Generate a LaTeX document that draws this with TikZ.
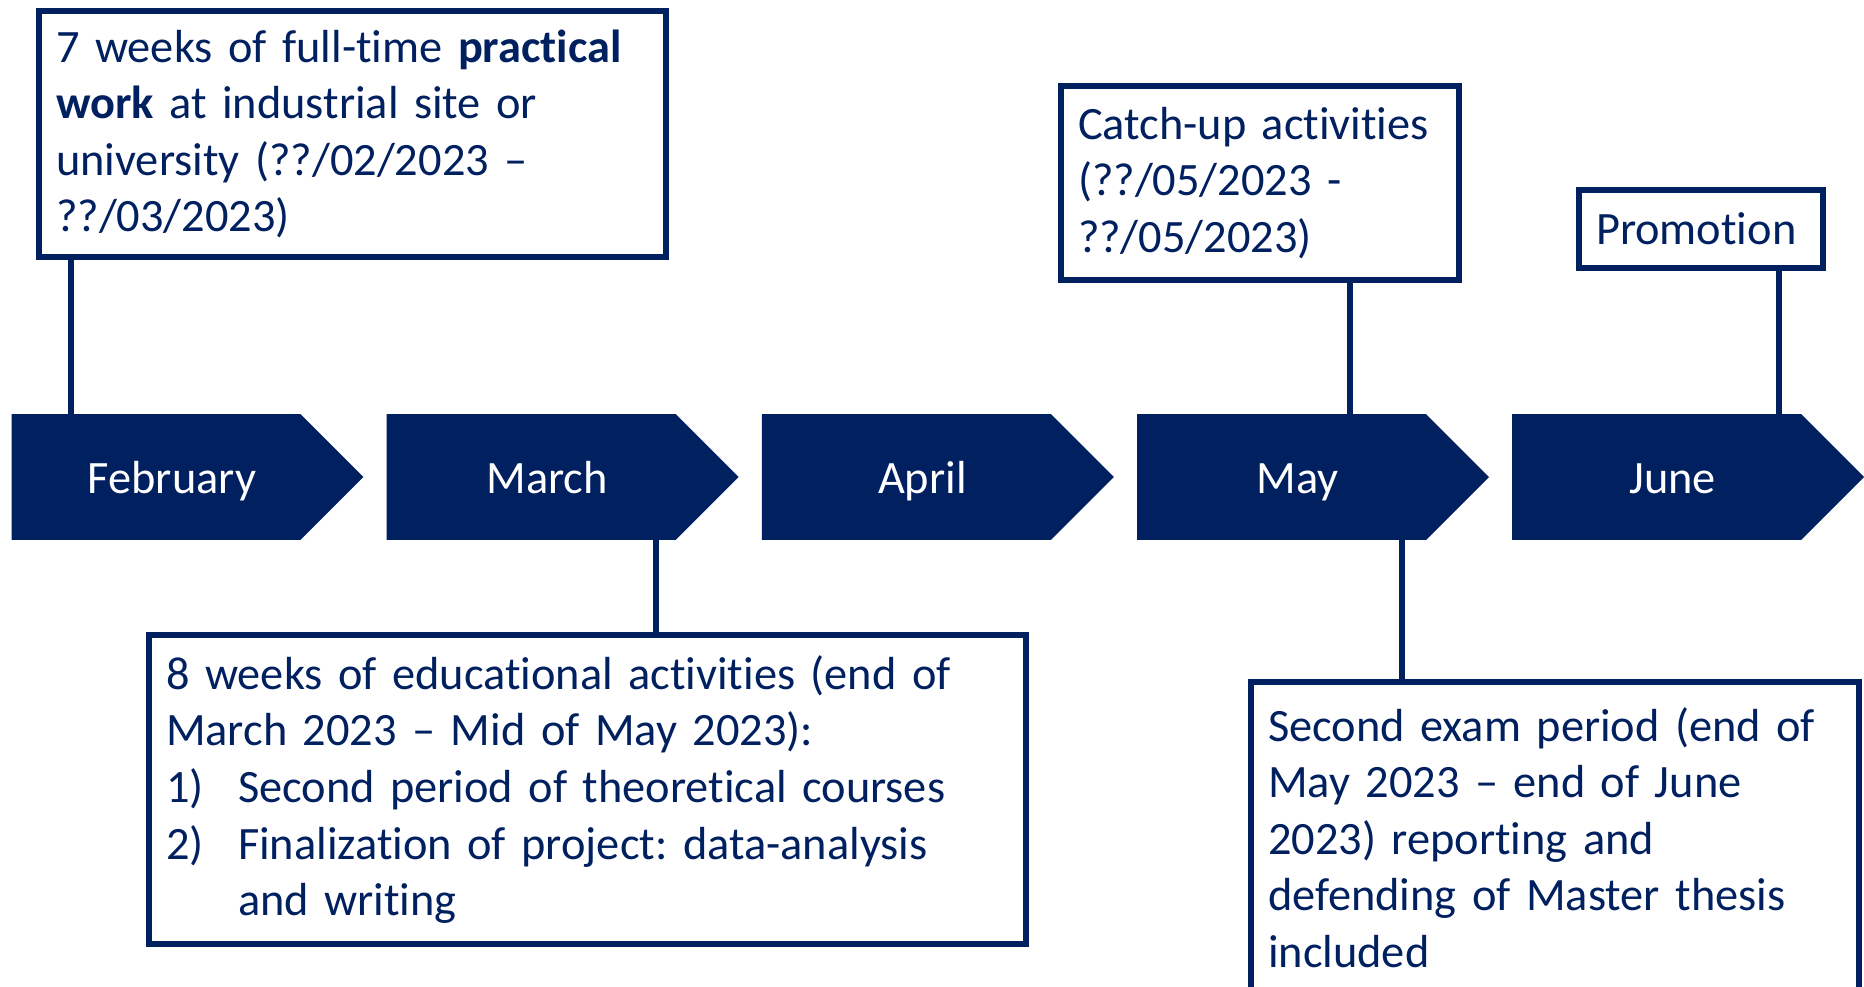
\documentclass[tikz,border=0pt]{standalone}
\usepackage{fontspec}
\setmainfont{Carlito}[Ligatures=NoCommon]
\usetikzlibrary{positioning,shapes.symbols}
\definecolor{navy}{HTML}{002060}
\frenchspacing
\begin{document}
\begin{tikzpicture}[x=0.02cm,y=-0.02cm]
	\tikzstyle{month} =[signal, signal to=east, signal pointer angle=90, fill=navy, text=white, minimum width=7.04cm, minimum height=2.52cm, inner sep=0pt, text height=0.8cm, text depth=0.16cm, font=\fontsize{26.4}{31.9}\selectfont];
	\tikzstyle{note} =[draw=navy, line width=0.12cm, text=navy, fill=white, align=left, inner xsep=0.34cm, inner ysep=0pt, font=\fontsize{26.4}{32.2}\selectfont];
	\tikzstyle{stem} =[draw=navy, line width=0.12cm];
	\useasboundingbox (0,0) rectangle (1864,987);
	\clip (0,0) rectangle (1864,987);

	% timeline
	\node[month] (feb) at (156,477) {\hspace*{0.64cm}February};
	\node[month, right of = feb, node distance=7.505cm] (mar) {\hspace*{0.64cm}March};
	\node[month, right of = mar, node distance=7.505cm] (apr) {\hspace*{0.64cm}April};
	\node[month, right of = apr, node distance=7.505cm] (may) {\hspace*{0.64cm}May};
	\node[month, right of = may, node distance=7.505cm] (jun) {\hspace*{0.64cm}June};

	% notes
	\node[note, text width=11.86cm, minimum width=12.54cm, minimum height=4.94cm] (work) at (352.5,134) {7 weeks of full-time \textbf{practical}\\ \textbf{work} at industrial site or\\ university (??/02/2023 --\\ ??/03/2023)};
	\node[note, text width=7.28cm, minimum width=7.96cm, minimum height=3.88cm] (catchup) at (1260,183) {Catch-up activities\\ (??/05/2023 -\\ ??/05/2023)};
	\node[note, text width=4.2cm, minimum width=4.88cm, minimum height=1.56cm] (promo) at (1701,229) {Promotion};
	\node[note, text width=16.86cm, minimum width=17.54cm, minimum height=6.18cm] (edu) at (587.5,789.5) {8 weeks of educational activities (end of\\ March 2023 -- Mid of May 2023):\\ \makebox[1.44cm][l]{1)}Second period of theoretical courses\\ \makebox[1.44cm][l]{2)}Finalization of project: data-analysis\\ \hspace*{1.44cm}and writing};
	\node[note, text width=11.48cm, minimum width=12.16cm, minimum height=6.22cm] (exam) at (1555,837.5) {Second exam period (end of\\ May 2023 -- end of June\\ 2023) reporting and\\ defending of Master thesis\\ included};

	% stems
	\draw[stem] ([xshift=1.2cm]feb.west |- feb.north) -- ([xshift=1.2cm]feb.west |- work.south);
	\draw[stem] ([xshift=5.4cm]mar.west |- mar.south) -- ([xshift=5.4cm]mar.west |- edu.north);
	\draw[stem] ([xshift=4.26cm]may.west |- may.north) -- ([xshift=4.26cm]may.west |- catchup.south);
	\draw[stem] ([xshift=5.3cm]may.west |- may.south) -- ([xshift=5.3cm]may.west |- exam.north);
	\draw[stem] ([xshift=5.34cm]jun.west |- jun.north) -- ([xshift=5.34cm]jun.west |- promo.south);
\end{tikzpicture}
\end{document}
